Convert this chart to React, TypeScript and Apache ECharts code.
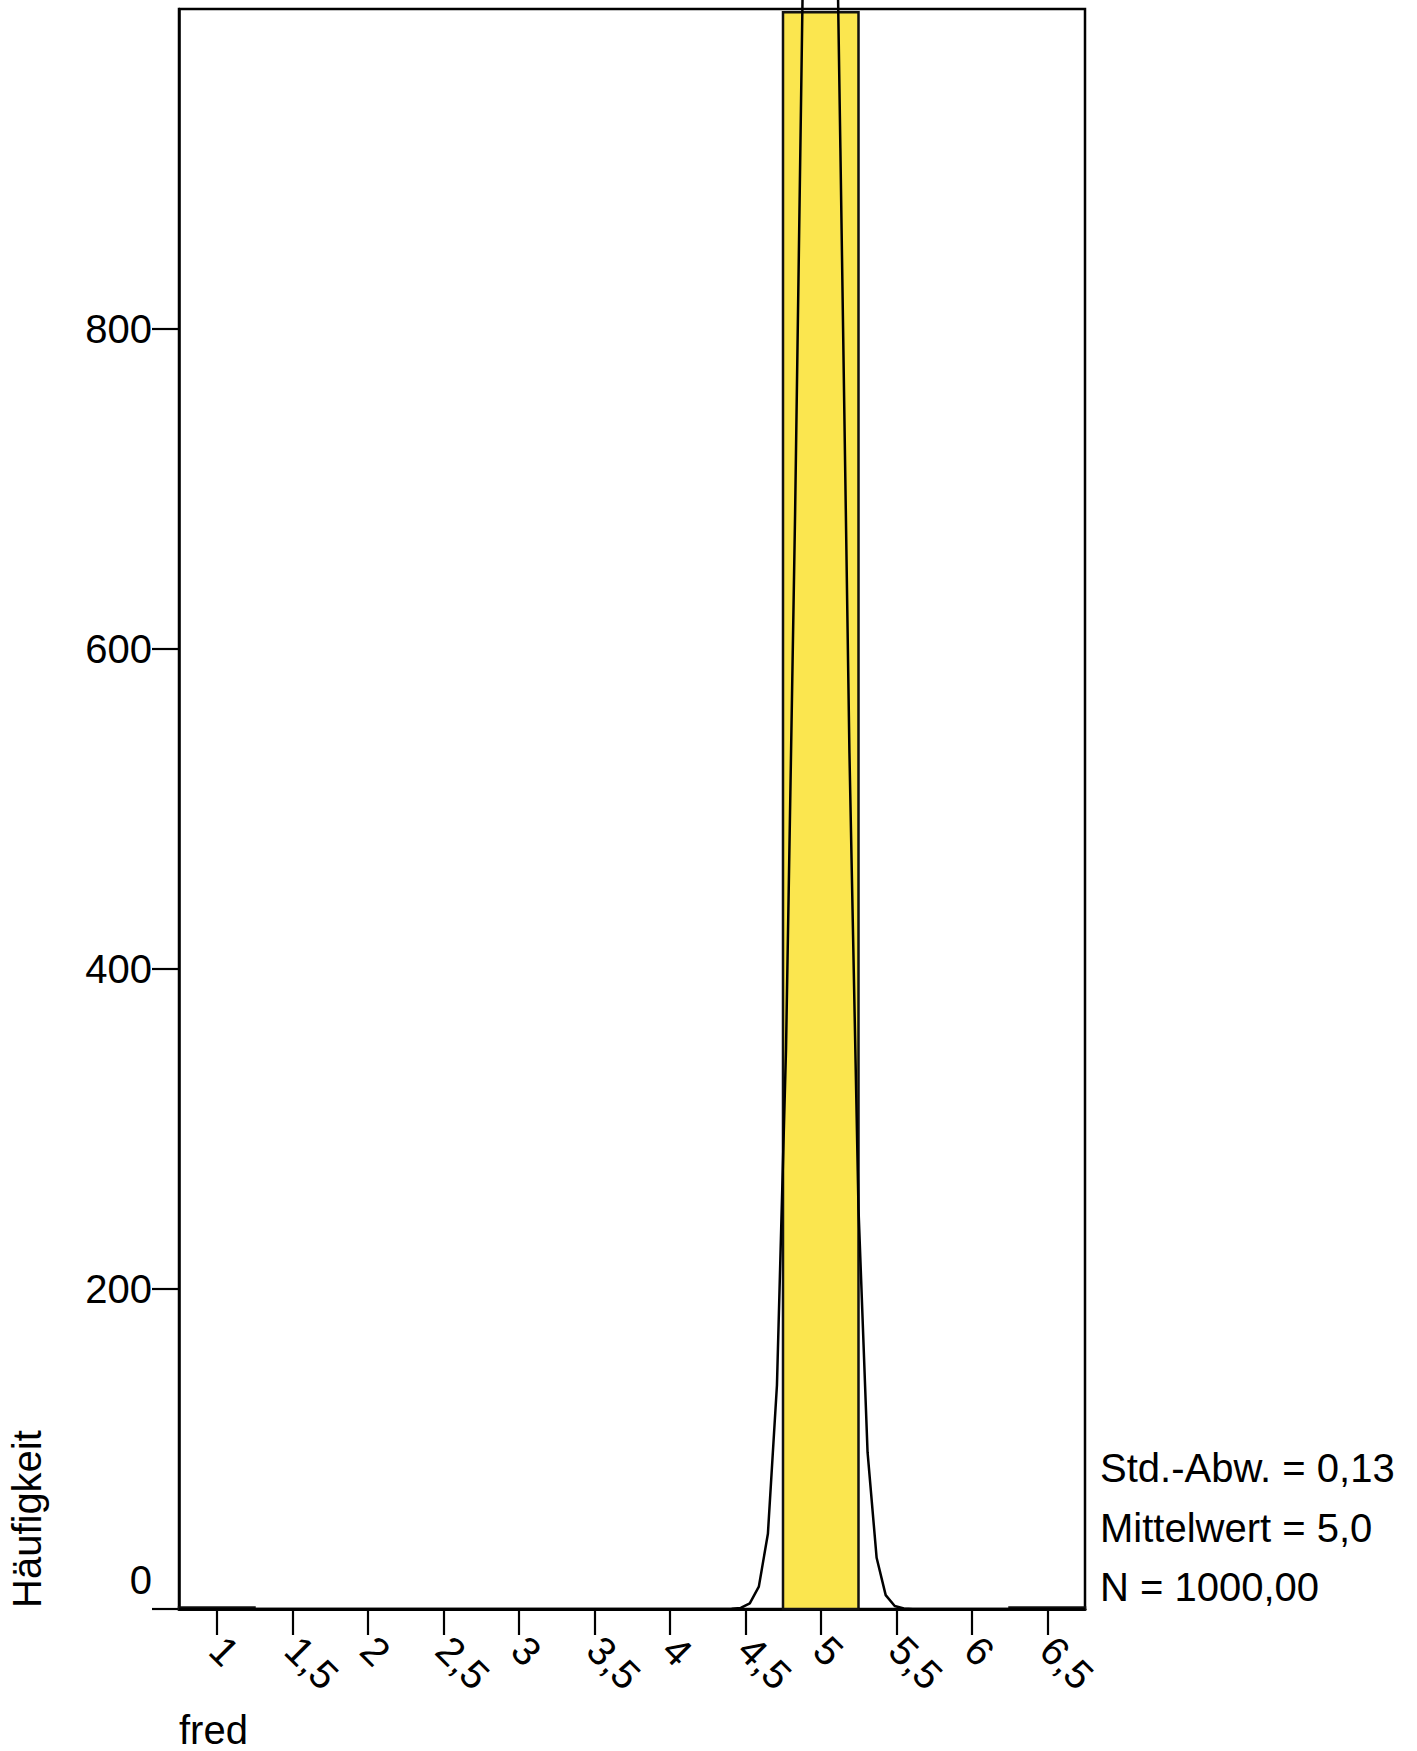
import React, { useEffect, useRef } from 'react';
import * as echarts from 'echarts';

const binCenters = [1, 1.5, 2, 2.5, 3, 3.5, 4, 4.5, 5, 5.5, 6, 6.5];
const binCounts = [1, 0, 0, 0, 0, 0, 0, 0, 998, 0, 0, 1];
const binWidth = 0.5;

const curveX = [0.75, 4.41, 4.47, 4.53, 4.59, 4.65, 4.71, 4.77, 4.83, 4.89, 4.95, 5.01, 5.07, 5.13, 5.19, 5.25, 5.31, 5.37, 5.43, 5.49, 5.55, 5.61, 6.75];
const curveY = [0, 0.1, 0.7, 3.5, 14, 47, 140, 350, 684, 1076, 1389, 1471, 1279, 913, 535, 250, 98, 32, 8.7, 1.9, 0.3, 0, 0];

const xTicks = [1, 1.5, 2, 2.5, 3, 3.5, 4, 4.5, 5, 5.5, 6, 6.5];
const yTicks = [0, 200, 400, 600, 800];
const statsLines = ['Std.-Abw. = 0,13', 'Mittelwert = 5,0', 'N = 1000,00'];
const xTitle = 'fred';
const yTitle = 'Häufigkeit';

export default function App() {
  const ref = useRef<HTMLDivElement>(null);
  useEffect(() => {
    const chart = echarts.init(ref.current as HTMLDivElement, null, { renderer: 'svg' });
    const font = "'Liberation Sans', Arial, Helvetica, sans-serif";
    const fs = 40;
    chart.setOption({
      animation: false,
      backgroundColor: '#ffffff',
      grid: {
        left: 179, top: 9, width: 906, height: 1600,
        show: true, borderColor: '#000', borderWidth: 2.5, backgroundColor: 'transparent',
      },
      xAxis: {
        type: 'value', min: 0.75, max: 6.75,
        axisLine: { show: true, onZero: false, lineStyle: { color: '#000', width: 3 } },
        axisTick: { show: true, customValues: xTicks, length: 26, lineStyle: { color: '#000', width: 2.2 } },
        axisLabel: {
          customValues: xTicks, rotate: -45, margin: 34, fontSize: fs, color: '#000', fontFamily: font,
          formatter: (v: number) => String(v).replace('.', ','),
        },
        splitLine: { show: false },
      },
      yAxis: {
        type: 'value', min: 0, max: 1000, interval: 200,
        axisLine: { show: true, lineStyle: { color: '#000', width: 2.5 } },
        axisTick: { show: true, customValues: yTicks, length: 27, lineStyle: { color: '#000', width: 2.2 } },
        axisLabel: {
          customValues: yTicks, margin: 27, fontSize: fs, color: '#000', fontFamily: font,
          formatter: (v: number) => (v === 0 ? '{z|0}' : String(v)),
          rich: { z: { fontSize: fs, fontFamily: font, color: '#000', padding: [0, 0, 58, 0] } },
        },
        splitLine: { show: false },
      },
      series: [
        {
          type: 'custom',
          data: binCenters.map((c, i) => [c, binWidth, binCounts[i]]),
          encode: { x: 0, y: 2 },
          z: 2,
          renderItem: (params: any, api: any) => {
            const c = api.value(0);
            const w = api.value(1);
            const n = api.value(2);
            if (!n) return { type: 'group', children: [] };
            const p0 = api.coord([c - w / 2, n]);
            const p1 = api.coord([c + w / 2, 0]);
            return {
              type: 'rect',
              shape: { x: p0[0], y: p0[1], width: p1[0] - p0[0], height: p1[1] - p0[1] },
              style: { fill: '#FBE64F', stroke: '#111', lineWidth: 2.5 },
            };
          },
        },
        {
          type: 'line',
          data: curveX.map((x, i) => [x, curveY[i]]),
          symbol: 'none',
          clip: false,
          z: 3,
          lineStyle: { color: '#000', width: 2.5 },
        },
      ],
      graphic: [
        {
          type: 'text', x: 27, y: 1608, rotation: Math.PI / 2,
          style: { text: yTitle, font: `${fs}px ${font}`, fill: '#000', align: 'left', verticalAlign: 'middle' },
        },
        {
          type: 'text', x: 179, y: 1730,
          style: { text: xTitle, font: `${fs}px ${font}`, fill: '#000', align: 'left', verticalAlign: 'middle' },
        },
        ...statsLines.map((t, i) => ({
          type: 'text', x: 1100, y: 1468 + i * 59.5,
          style: { text: t, font: `${fs}px ${font}`, fill: '#000', align: 'left', verticalAlign: 'middle' },
        })),
      ],
    });
    return () => chart.dispose();
  }, []);
  return (
    <div
      ref={ref}
      style={{ position: 'absolute', left: 0, top: 0, width: 1417, height: 1751, background: '#fff' }}
    />
  );
}
